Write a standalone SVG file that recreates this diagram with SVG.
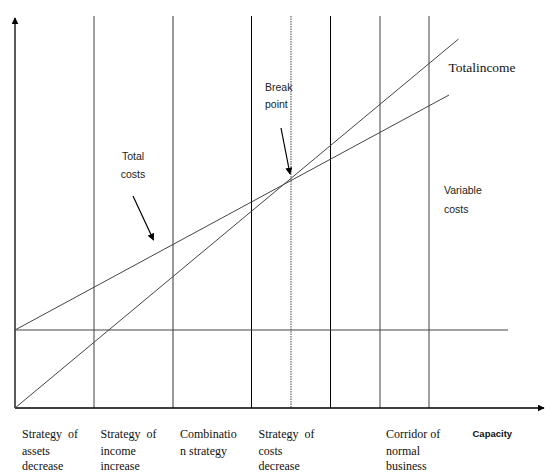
<svg xmlns="http://www.w3.org/2000/svg" width="545" height="473" viewBox="0 0 545 473">
<style>
.ax{stroke:#000;stroke-width:1.3;fill:none}
.vk{stroke:#000;stroke-width:1;fill:none}
.vg{stroke:#888;stroke-width:1.6;fill:none}
.vm{stroke:#555;stroke-width:1.2;fill:none}
.ln{stroke:#444;stroke-width:1;fill:none}
.sr{font-family:"Liberation Serif",serif;font-size:12px;fill:#111}
.ss{font-family:"Liberation Sans",Arial,sans-serif;font-size:10.5px;fill:#222}
.cap{font-family:"Liberation Sans",Arial,sans-serif;font-size:9.5px;font-weight:bold;fill:#111}
</style>
<defs>
<marker id="ah" viewBox="0 0 10 10" refX="9" refY="5" markerWidth="7" markerHeight="7" markerUnits="userSpaceOnUse" orient="auto">
<path d="M0,0 L10,5 L0,10 z" fill="#000"/>
</marker>
</defs>
<g id="grid">
<line class="vg" x1="94" y1="16" x2="94" y2="408"/>
<line class="vm" x1="173" y1="16" x2="173" y2="408"/>
<line class="vk" x1="251.5" y1="16" x2="251.5" y2="408"/>
<line stroke="#444" stroke-width="1" stroke-dasharray="1.5,1" x1="291" y1="16" x2="291" y2="408"/>
<line class="vk" x1="330.5" y1="16" x2="330.5" y2="408"/>
<line class="vg" x1="380" y1="16" x2="380" y2="408"/>
<line class="vg" x1="429" y1="16" x2="429" y2="408"/>
</g>
<g id="connectors">
<line class="ax" x1="15" y1="408" x2="15" y2="18" marker-end="url(#ah)"/>
<line class="ax" x1="15" y1="408" x2="544" y2="408" marker-end="url(#ah)"/>
<line class="ln" x1="15" y1="330" x2="508" y2="330"/>
<line class="ln" x1="15" y1="330" x2="449" y2="95"/>
<line class="ln" x1="15" y1="408" x2="458.5" y2="39"/>
<line stroke="#000" stroke-width="1.2" x1="133" y1="196" x2="153.5" y2="240" marker-end="url(#ah)"/>
<line stroke="#000" stroke-width="1.2" x1="281" y1="128" x2="290" y2="174" marker-end="url(#ah)"/>
</g>
<g id="total-costs"><text class="ss" x="133" y="160" text-anchor="middle">Total</text><text class="ss" x="133" y="177.5" text-anchor="middle">costs</text></g>
<g id="break-point"><text class="ss" x="265" y="91">Break</text><text class="ss" x="265" y="108">point</text></g>
<g id="total-income"><text class="sr" x="448.5" y="71.5" textLength="67" lengthAdjust="spacingAndGlyphs">Totalincome</text></g>
<g id="variable-costs"><text class="ss" x="444" y="194">Variable</text><text class="ss" x="444" y="212.5">costs</text></g>
<g id="label-assets"><text class="sr" x="22" y="437.5" word-spacing="3">Strategy of</text><text class="sr" x="22" y="454.5">assets</text><text class="sr" x="22" y="470">decrease</text></g>
<g id="label-income"><text class="sr" x="100.5" y="437.5" word-spacing="3">Strategy of</text><text class="sr" x="100.5" y="454.5">income</text><text class="sr" x="100.5" y="470">increase</text></g>
<g id="label-combination"><text class="sr" x="180" y="437.5">Combinatio</text><text class="sr" x="180" y="454.5">n strategy</text></g>
<g id="label-costs"><text class="sr" x="258.5" y="437.5" word-spacing="3">Strategy of</text><text class="sr" x="258.5" y="454.5">costs</text><text class="sr" x="258.5" y="470">decrease</text></g>
<g id="label-corridor"><text class="sr" x="386" y="437.5">Corridor of</text><text class="sr" x="386" y="454.5">normal</text><text class="sr" x="386" y="470">business</text></g>
<g id="label-capacity"><text class="cap" x="472.5" y="437">Capacity</text></g>
</svg>
